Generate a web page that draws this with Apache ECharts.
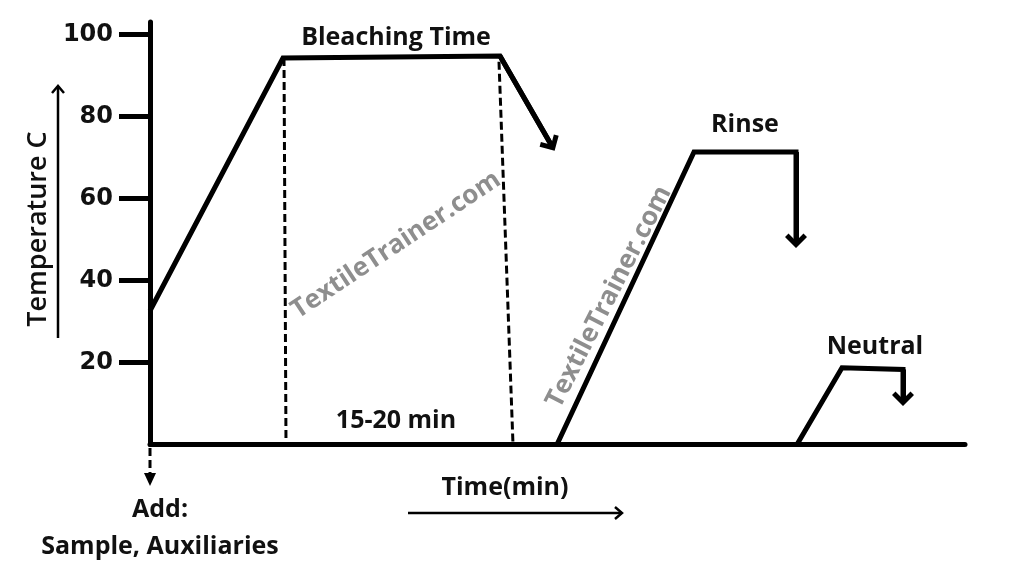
<!DOCTYPE html>
<html><head><meta charset="utf-8">
<script src="https://cdn.jsdelivr.net/npm/echarts@6/dist/echarts.min.js"></script>
<style>html,body{margin:0;padding:0;background:#fff}#c{width:1024px;height:576px}</style>
</head><body><div id="c"></div>
<script>
// ---- data (time in arbitrary minutes-scale units, temperature in °C) ----
const yTickValues = [20, 40, 60, 80, 100];
const bleachTime  = [0, 133, 350, 403];
const bleachTemp  = [32.6, 94.2, 94.7, 72.3];
const rinseTime   = [407, 544, 646, 646];
const rinseTemp   = [0, 71.3, 71.3, 48.7];
const neutralTime = [647, 692, 753, 753];
const neutralTemp = [0, 18.7, 18.3, 10.2];
const guideStartTime = [134, 349];
const guideEndTime   = [136, 363];
const guideTopTemp   = [94.2, 93.3];

const CHEVRON = 'path://M11,0 L22,11 L18.5,14.5 L11,7 L3.5,14.5 L0,11 Z M11,-8 L11.02,-8 L11,-7.98 Z';
const TXT = '"Open Sans", "DejaVu Sans", sans-serif';

function profile(name, xs, ys) {
  const pts = xs.map((x, i) => [x, ys[i]]);
  return {
    type: 'line', name, data: pts, symbol: 'none', animation: false, silent: true,
    lineStyle: { color: '#000', width: 5, join: 'miter', cap: 'butt' },
    markLine: {
      silent: true, animation: false,
      symbol: ['none', CHEVRON], symbolSize: [22, 22.5],
      label: { show: false },
      lineStyle: { color: '#000', width: 5, type: 'solid' },
      data: [[{ coord: pts[pts.length - 2] }, { coord: pts[pts.length - 1] }]]
    }
  };
}

function guide(i) {
  return {
    type: 'line', data: [[guideStartTime[i], guideTopTemp[i]], [guideEndTime[i], 0]],
    symbol: 'none', animation: false, silent: true, z: 1,
    lineStyle: { color: '#000', width: 3, type: [8, 4] }
  };
}

const chart = echarts.init(document.getElementById('c'));
chart.setOption({
  backgroundColor: '#fff',
  animation: false,
  grid: { left: 150, right: 59, top: 22, bottom: 131.5 },
  xAxis: {
    type: 'value', min: 0, max: 815,
    axisLine: { show: true, onZero: true, lineStyle: { color: '#000', width: 5 } },
    axisTick: { show: false }, axisLabel: { show: false }, splitLine: { show: false }
  },
  yAxis: {
    type: 'value', min: 0, max: 103, interval: 20,
    axisLine: { show: true, lineStyle: { color: '#000', width: 5 } },
    axisTick: { show: true, inside: false, length: 31, customValues: yTickValues,
                lineStyle: { color: '#000', width: 5 } },
    axisLabel: { customValues: yTickValues, margin: 37, color: '#111',
                 fontFamily: 'DejaVu Sans', fontWeight: 'bold', fontSize: 24 },
    splitLine: { show: false }
  },
  series: [
    guide(0), guide(1),
    profile('Bleaching', bleachTime, bleachTemp),
    profile('Rinse', rinseTime, rinseTemp),
    profile('Neutral', neutralTime, neutralTemp)
  ],
  graphic: [
    // watermarks
    { type: 'text', x: 396, y: 245, rotation: 0.586, z: 0, silent: true,
      style: { text: 'TextileTrainer.com', fill: '#8e8e8e', font: 'bold 26px ' + TXT, align: 'center', verticalAlign: 'middle' } },
    { type: 'text', x: 609, y: 297, rotation: 1.098, z: 0, silent: true,
      style: { text: 'TextileTrainer.com', fill: '#8e8e8e', font: 'bold 26px ' + TXT, align: 'center', verticalAlign: 'middle' } },
    // annotations
    { type: 'text', x: 396, y: 38, style: { text: 'Bleaching Time', fill: '#111', font: 'bold 25px ' + TXT, align: 'center', verticalAlign: 'middle' } },
    { type: 'text', x: 396, y: 421, style: { text: '15-20 min', fill: '#111', font: 'bold 25px ' + TXT, align: 'center', verticalAlign: 'middle' } },
    { type: 'text', x: 745, y: 125, style: { text: 'Rinse', fill: '#111', font: 'bold 25px ' + TXT, align: 'center', verticalAlign: 'middle' } },
    { type: 'text', x: 875, y: 347, style: { text: 'Neutral', fill: '#111', font: 'bold 25px ' + TXT, align: 'center', verticalAlign: 'middle' } },
    { type: 'text', x: 505, y: 488, style: { text: 'Time(min)', fill: '#111', font: 'bold 25px ' + TXT, align: 'center', verticalAlign: 'middle' } },
    { type: 'text', x: 160, y: 510, style: { text: 'Add:', fill: '#111', font: 'bold 25px ' + TXT, align: 'center', verticalAlign: 'middle' } },
    { type: 'text', x: 160, y: 547, style: { text: 'Sample, Auxiliaries', fill: '#111', font: 'bold 25px ' + TXT, align: 'center', verticalAlign: 'middle' } },
    { type: 'text', x: 38, y: 229, rotation: Math.PI / 2,
      style: { text: 'Temperature C', fill: '#111', font: '600 27px ' + TXT, align: 'center', verticalAlign: 'middle' } },
    // temperature arrow
    { type: 'line', shape: { x1: 58, y1: 338, x2: 58, y2: 86 }, style: { stroke: '#000', lineWidth: 2.5 } },
    { type: 'polyline', shape: { points: [[52, 93], [58, 86], [64, 93]] }, style: { stroke: '#000', lineWidth: 2.5, fill: null } },
    // time arrow
    { type: 'line', shape: { x1: 408, y1: 513, x2: 622, y2: 513 }, style: { stroke: '#000', lineWidth: 2.5 } },
    { type: 'polyline', shape: { points: [[615, 507], [622, 513], [615, 519]] }, style: { stroke: '#000', lineWidth: 2.5, fill: null } },
    // dashed add arrow
    { type: 'line', shape: { x1: 150, y1: 448, x2: 150, y2: 476 }, style: { stroke: '#000', lineWidth: 3, lineDash: [8, 4] } },
    { type: 'polygon', shape: { points: [[144, 473], [156, 473], [150, 486]] }, style: { fill: '#000' } }
  ]
});
</script></body></html>
